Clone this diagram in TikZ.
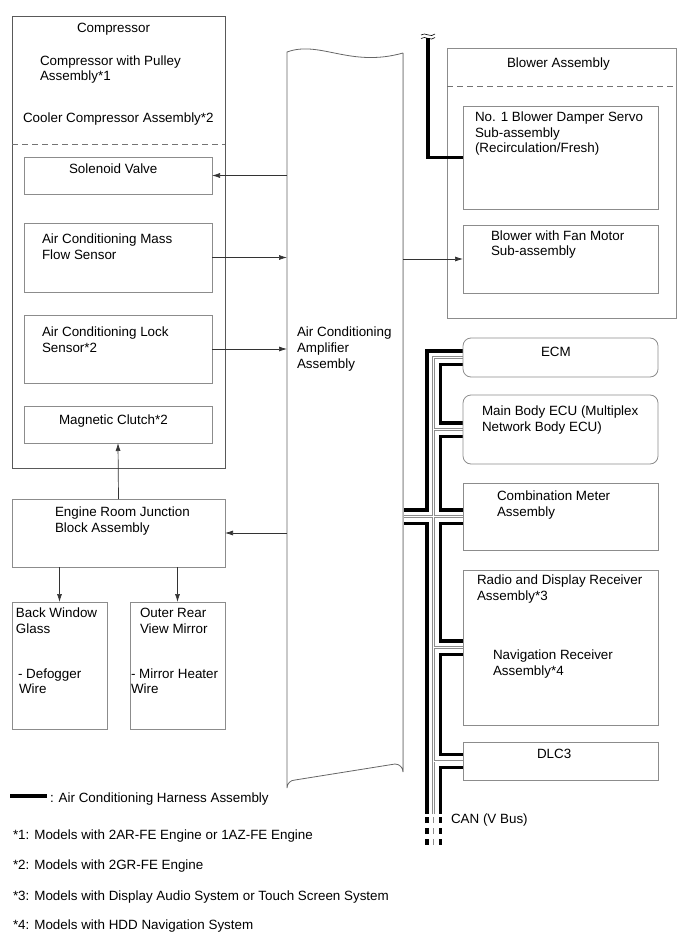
\documentclass[tikz,border=0pt]{standalone}
\usepackage{fontspec}
\setmainfont{Liberation Sans}
\usetikzlibrary{arrows.meta,backgrounds}
\begin{document}
\begin{tikzpicture}[x=1pt,y=-1pt,
  every node/.style={inner sep=0pt, outer sep=0pt},
  lbl/.style={anchor=base west, font=\fontsize{13.4}{16}\selectfont},
  bx/.style={draw=black!45, line width=0.8pt, anchor=north west},
  obx/.style={draw=black!65, line width=0.8pt, anchor=north west},
  rbx/.style={bx, rounded corners=8pt},
  ghost/.style={anchor=north west},
  arr/.style={draw=black!80, line width=0.7pt, -{Latex[length=8pt,width=5pt]}},
  dsh/.style={draw=black!55, line width=0.7pt, dash pattern=on 6pt off 4pt},
  harness/.style={line width=3.6pt, black},
  cabA/.style={line width=16.5pt, black},
  cabB/.style={line width=10pt, white},
  cabC/.style={line width=2.4pt, black!45},
  cabD/.style={line width=0.9pt, white},
]
\useasboundingbox (0,0) rectangle (690,952);

% ---------- boxes ----------
\node[obx, minimum width=213pt, minimum height=452pt] (comp) at (12,16) {};
\node[bx, minimum width=188pt, minimum height=37pt] (sv) at (24,157) {};
\node[bx, minimum width=188pt, minimum height=69pt] (mf) at (24,223) {};
\node[bx, minimum width=188pt, minimum height=68pt] (ls) at (24,315) {};
\node[bx, minimum width=188pt, minimum height=37pt] (mc) at (24,406) {};
\node[bx, minimum width=213pt, minimum height=68pt] (jb) at (12,499) {};
\node[bx, minimum width=95pt, minimum height=127pt] (bw) at (12,602) {};
\node[bx, minimum width=95pt, minimum height=127pt] (orm) at (130,602) {};
\node[ghost, minimum width=116pt, minimum height=728pt] (amp) at (287,52) {};
\node[bx, minimum width=229pt, minimum height=270pt] (ba) at (447,48) {};
\node[bx, minimum width=195pt, minimum height=103pt] (ds) at (463,106) {};
\node[bx, minimum width=195pt, minimum height=68pt] (bf) at (463,225) {};
\node[rbx, minimum width=195pt, minimum height=39pt] (ecm) at (463,338) {};
\node[rbx, minimum width=195pt, minimum height=69pt] (mb) at (463,395) {};
\node[bx, minimum width=195pt, minimum height=67pt] (cm) at (463,483) {};
\node[bx, minimum width=195pt, minimum height=155pt] (rd) at (463,570) {};
\node[bx, minimum width=195pt, minimum height=38pt] (dlc) at (463,742) {};

% amplifier outline (wavy top, rounded bottom)
\draw[black!60, line width=0.8pt] (403,53) -- (403,772) arc[start angle=0, end angle=-90, radius=8]
  -- (295,780) arc[start angle=270, end angle=180, radius=8] -- (287,52)
  .. controls (320,40) and (350,68) .. (403,53);
\draw[black!30, line width=0.8pt] (403,53) -- (403,772);

% dashed separators
\draw[dsh] (comp.west |- 0,144) -- (comp.east |- 0,144);
\draw[dsh] (ba.west |- 0,86) -- (ba.east |- 0,86);

% ---------- arrows ----------
\draw[arr] (amp.west |- sv.east) -- (sv.east);
\draw[arr] (mf.east) -- (amp.west |- mf.east);
\draw[arr] (ls.east) -- (amp.west |- ls.east);
\draw[arr] (amp.west |- jb.east) -- (jb.east);
\draw[arr] (jb.north) -- (mc.south);
\draw[arr] (jb.south -| bw.north) -- (bw.north);
\draw[arr] (jb.south -| orm.north) -- (orm.north);
\draw[arr] (amp.east |- bf.west) -- (bf.west);

% ---------- harness ----------
\coordinate (htop) at (428,38);
\draw[harness] (htop) |- (ds.west);
\draw[line width=0.6pt] (421,35) .. controls (425,31.5) and (431,38.5) .. (435,34);
\draw[line width=0.6pt] (421,38.5) .. controls (425,35) and (431,42) .. (435,37.5);

% legend line
\coordinate (lg1) at (10,796);
\coordinate (lg2) at (47,796);
\draw[harness] (lg1) -- (lg2);

% ---------- CAN bus ----------
\coordinate (canx) at (433.5,0);
\coordinate (canbot) at (433.5,814);
\coordinate (cand1) at (433.5,817);
\coordinate (cand2) at (433.5,846);
\begin{scope}[on background layer]
\foreach \st in {cabA,cabB,cabC,cabD}{
  \draw[\st] (canbot) -- (ecm.west -| canx) -- (ecm.west)
    (mb.west -| canx) -- (mb.west)
    (cm.west -| amp.east) -- (cm.west)
    (rd.west -| canx) -- (rd.west)
    (dlc.west -| canx) -- (dlc.west);
}
\draw[cabA, dash pattern=on 6pt off 5pt] (cand1) -- (cand2);
\draw[cabB] (cand1) -- (cand2);
\draw[line width=1.2pt, black!45, dash pattern=on 6pt off 5pt] (cand1) -- (cand2);
\end{scope}

% ---------- texts ----------
\node[lbl] (t1) at (77,33) {Compressor};
\node[lbl] (t2) at (40,66) {Compressor with Pulley};
\node[lbl] (t3) at (40,81) {Assembly*1};
\node[lbl] (t4) at (23,123) {Cooler Compressor Assembly*2};
\node[lbl] (t5) at (69,174) {Solenoid Valve};
\node[lbl] (t6) at (42,243) {Air Conditioning Mass};
\node[lbl] (t7) at (42,259) {Flow Sensor};
\node[lbl] (t8) at (42,336) {Air Conditioning Lock};
\node[lbl] (t9) at (42,352) {Sensor*2};
\node[lbl] (t10) at (59,424) {Magnetic Clutch*2};
\node[lbl] (t11) at (55,516) {Engine Room Junction};
\node[lbl] (t12) at (55,532) {Block Assembly};
\node[lbl] (t13) at (16,617) {Back Window};
\node[lbl] (t14) at (16,633) {Glass};
\node[lbl] (t15) at (18,678) {- Defogger};
\node[lbl] (t16) at (19,693) {Wire};
\node[lbl] (t17) at (140,617) {Outer Rear};
\node[lbl] (t18) at (140,633) {View Mirror};
\node[lbl] (t19) at (131,678) {- Mirror Heater};
\node[lbl] (t20) at (131,693) {Wire};
\node[lbl] (t21) at (297,336) {Air Conditioning};
\node[lbl] (t22) at (297,352) {Amplifier};
\node[lbl] (t23) at (297,368) {Assembly};
\node[lbl] (t24) at (507,68) {Blower Assembly};
\node[lbl] (t25) at (475,122) {No. 1 Blower Damper Servo};
\node[lbl] (t26) at (475,138) {Sub-assembly};
\node[lbl] (t27) at (475,153) {(Recirculation/Fresh)};
\node[lbl] (t28) at (491,240) {Blower with Fan Motor};
\node[lbl] (t29) at (491,255) {Sub-assembly};
\node[lbl] (t30) at (541,356) {ECM};
\node[lbl] (t31) at (482,415) {Main Body ECU (Multiplex};
\node[lbl] (t32) at (482,431) {Network Body ECU)};
\node[lbl] (t33) at (497,500) {Combination Meter};
\node[lbl] (t34) at (497,516) {Assembly};
\node[lbl] (t35) at (477,584) {Radio and Display Receiver};
\node[lbl] (t36) at (477,600) {Assembly*3};
\node[lbl] (t37) at (493,659) {Navigation Receiver};
\node[lbl] (t38) at (493,675) {Assembly*4};
\node[lbl] (t39) at (537,758) {DLC3};
\node[lbl] (t40) at (451,823) {CAN (V Bus)};
\node[lbl] (t41) at (50,802) {: Air Conditioning Harness Assembly};
\node[lbl] (t42) at (13,839) {*1: Models with 2AR-FE Engine or 1AZ-FE Engine};
\node[lbl] (t43) at (13,869) {*2: Models with 2GR-FE Engine};
\node[lbl] (t44) at (13,900) {*3: Models with Display Audio System or Touch Screen System};
\node[lbl] (t45) at (13,929) {*4: Models with HDD Navigation System};
\end{tikzpicture}
\end{document}
